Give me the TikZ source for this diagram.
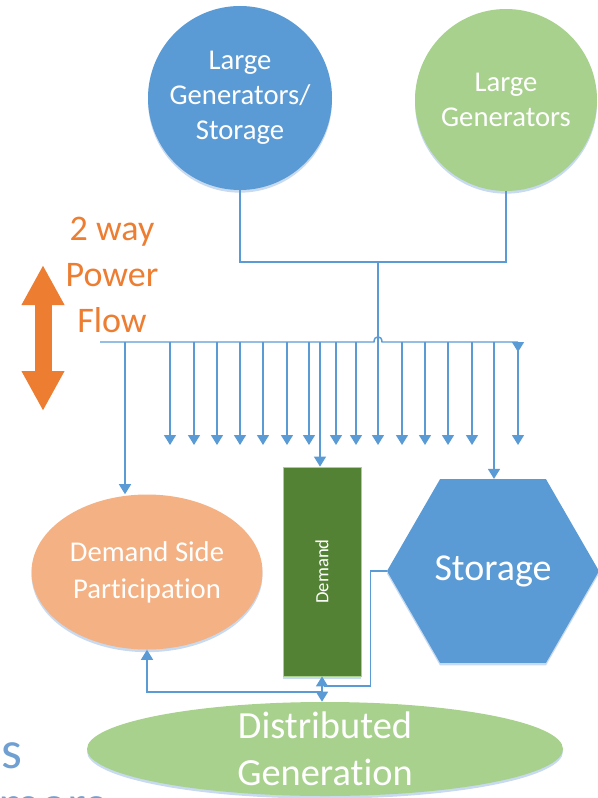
\documentclass[tikz,border=0pt]{standalone}
\usepackage{fontspec}
\setmainfont{Carlito}[Ligatures=NoCommon]
\usetikzlibrary{shapes.geometric, arrows.meta, shadows}
\definecolor{lineblue}{RGB}{91,155,213}
\definecolor{genblue}{RGB}{91,155,213}
\definecolor{gengreen}{RGB}{169,209,142}
\definecolor{dsporange}{RGB}{244,177,131}
\definecolor{demgreen}{RGB}{84,130,53}
\definecolor{floworange}{RGB}{237,125,49}
\definecolor{shadeblue}{RGB}{200,218,240}
\definecolor{fragblue}{RGB}{112,160,210}
\tikzstyle{softshadow} = [drop shadow={opacity=1, fill=shadeblue, shadow xshift=0pt, shadow yshift=-2pt}]
\tikzstyle{gencircle} = [circle, minimum size=138pt, inner sep=0pt, text=white, align=center, font=\fontsize{21.5}{26.25}\selectfont, softshadow]
\tikzstyle{loadoval} = [ellipse, inner sep=0pt, text=white, align=center, softshadow]
\tikzstyle{demandbox} = [rectangle, minimum width=58.5pt, minimum height=156.75pt, inner sep=0pt, fill=demgreen, draw=gengreen, line width=0.6pt, text=white, font=\fontsize{14}{16}\selectfont, softshadow]
\tikzstyle{storebox} = [regular polygon, regular polygon sides=6, minimum size=159pt, inner sep=0pt, fill=genblue, text=white, font=\fontsize{28.5}{34}\selectfont, softshadow]
\tikzstyle{feeder} = [line width=1.1pt, draw=lineblue]
\tikzstyle{arrow} = [feeder, -{Triangle[width=9pt,length=7.5pt]}]
\tikzstyle{flowarrow} = [line width=12.75pt, draw=floworange, {Triangle[width=30pt,length=30pt]}-{Triangle[width=30pt,length=30pt]}]

\begin{document}
\begin{tikzpicture}[x=0.75pt, y=-0.75pt]
    \useasboundingbox (0,0) rectangle (597,798);

    %nodes
    \node (gen1) [gencircle, fill=genblue] at (240,98) {Large\\Generators/\\Storage};
    \node (gen2) [gencircle, fill=gengreen, minimum size=136.5pt] at (506,100) {Large\\Generators};
    \node (dsp) [loadoval, fill=dsporange, minimum width=173.25pt, minimum height=116.25pt, font=\fontsize{21.5}{27.75}\selectfont] at (147,572) {Demand Side\\Participation};
    \node (demand) [demandbox] at (322,571.5) {\rotatebox{90}{Demand}};
    \node (store) [storebox] at (493,571) {Storage};
    \node (dg) [loadoval, fill=gengreen, minimum width=357pt, minimum height=70.5pt] at (325,749) {};
    \node (dgtxt) [text=white, align=center, font=\fontsize{28.8}{35}\selectfont] at (dg.center) {Distributed\\Generation};
    \node (flowtxt) [text=floworange, align=center, font=\fontsize{27}{34.5}\selectfont] at (112,275) {2 way\\Power\\Flow};
    \node (frags) [anchor=base east, text=fragblue, inner sep=0pt, font=\fontsize{40}{40}\selectfont] at (23,768) {s};
    \node (fragmers) [anchor=base west, text=fragblue, inner sep=0pt, font=\fontsize{40}{40}\selectfont] at (-2,822) {mers};

    %coordinates
    \coordinate (busL) at (100,342);
    \coordinate (busR) at (518,342);
    \coordinate (tap) at (378,262);
    \coordinate (dropdsp) at (125,342);
    \coordinate (dropdem) at (320,342);
    \coordinate (dropsto) at (494,342);
    \coordinate (hub) at (322,692);
    \coordinate (hubsto) at (324,686);
    \coordinate (flowtop) at (43,265);
    \coordinate (flowbot) at (43,411);

    %arrows
    \draw [flowarrow] (flowbot) -- (flowtop);
    \draw [feeder] (gen1.south) |- (tap) -| (gen2.south);
    \draw [feeder] (busL) -- (374,342) .. controls (374,335) and (382,335) .. (382,342) -- (busR);
    \draw [arrow] (tap) -- (378,445);
    \foreach \x in {170,194,217,240,263,287,309,336,356,402,425,448,472}
        \draw [arrow] (\x,342) -- (\x,445);
    \draw [feeder, {Triangle[reversed,width=9pt,length=7.5pt]}-{Triangle[width=9pt,length=7.5pt]}] (busR) -- (518,445);
    \draw [arrow] (dropdsp) -- (dropdsp |- dsp.north);
    \draw [arrow] (dropdem) -- (dropdem |- demand.north);
    \draw [arrow] (dropsto) -- (dropsto |- store.north);

    \draw [arrow] (hub) -| (dsp.south);
    \draw [arrow] (hub) -- (demand.south);
    \draw [arrow] (hub) -- (hub |- dg.north);
    \draw [feeder] (store.west) -- ++(-16,0) |- (hubsto);

\end{tikzpicture}
\end{document}
